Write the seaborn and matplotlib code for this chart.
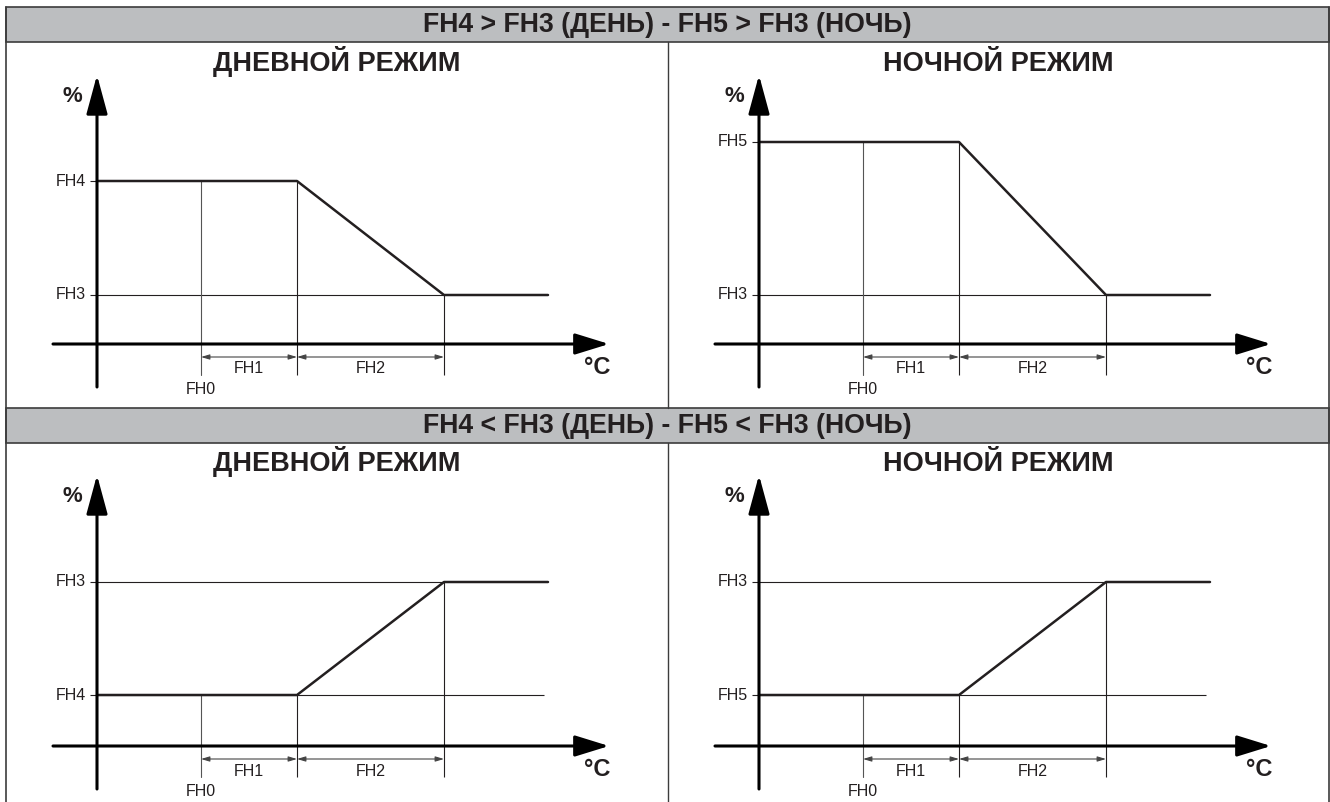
import matplotlib.pyplot as plt
import pandas as pd
import seaborn as sns
from matplotlib.patches import Rectangle

# section headers and panel titles
headers = ['FH4 > FH3 (ДЕНЬ) - FH5 > FH3 (НОЧЬ)', 'FH4 < FH3 (ДЕНЬ) - FH5 < FH3 (НОЧЬ)']
titles = ['ДНЕВНОЙ РЕЖИМ', 'НОЧНОЙ РЕЖИМ', 'ДНЕВНОЙ РЕЖИМ', 'НОЧНОЙ РЕЖИМ']

# temperature bands along the x axis (same scale in every panel)
fh0 = 104
fh1 = 96
fh2 = 147
x_end = 451
ref_end = 447

# output level at the start and at the end of the curve, per panel
start_names = ['FH4', 'FH5', 'FH4', 'FH5']
start_levels = [163, 202, 51, 51]
end_names = ['FH3', 'FH3', 'FH3', 'FH3']
end_levels = [49, 49, 164, 164]

# build one long table with the curve of each panel
rows = []
for i in range(4):
    xs = [0, fh0 + fh1, fh0 + fh1 + fh2, x_end]
    ys = [start_levels[i], start_levels[i], end_levels[i], end_levels[i]]
    for x, y in zip(xs, ys):
        rows.append({'panel': i, 'temp': x, 'level': y})
df = pd.DataFrame(rows)

sns.set_theme(style='white')
plt.rcParams['font.family'] = ['Liberation Sans', 'DejaVu Sans']

W, H = 1330, 802
ink = '#231f20'
grey = '#bcbec0'
frame = '#3c3c3c'

fig = plt.figure(figsize=(W / 100, H / 100), dpi=100)

# background: table frame and header bands (pixel coordinates)
bg = fig.add_axes([0, 0, 1, 1])
bg.set_xlim(0, W)
bg.set_ylim(H, 0)
bg.axis('off')
for top, hdr in zip([7, 408], headers):
    bg.add_patch(Rectangle((6, top), 1323, 35, facecolor=grey, edgecolor=frame, lw=1.2))
    bg.text(667, top + 25, hdr, ha='center', va='baseline', fontsize=19.2, fontweight='bold', color=ink)
bg.plot([6, 6], [7, H], color=frame, lw=1.2)
bg.plot([1329, 1329], [7, H], color=frame, lw=1.2)
bg.plot([668, 668], [42, 408], color=frame, lw=1)
bg.plot([668, 668], [443, H], color=frame, lw=1)

# panel boxes: left, top, right, bottom, origin x, origin y (pixels)
boxes = [
    (6, 43, 668, 408, 97, 344),
    (668, 43, 1329, 408, 759, 344),
    (6, 443, 668, 802, 97, 746),
    (668, 443, 1329, 802, 759, 746),
]

for i, (l, t, r, b, ox, oy) in enumerate(boxes):
    ax = fig.add_axes([l / W, 1 - b / H, (r - l) / W, (b - t) / H])
    ax.set_xlim(l - ox, r - ox)
    ax.set_ylim(oy - b, oy - t)
    ax.axis('off')
    ax.patch.set_alpha(0)

    s, e = start_levels[i], end_levels[i]
    k1, k2 = fh0 + fh1, fh0 + fh1 + fh2

    # thin guide lines
    thin = dict(color=ink, lw=0.8, solid_capstyle='butt')
    ax.plot([-7, k2], [e, e], **thin)
    ax.plot([-7, ref_end if s < e else 0], [s, s], **thin)
    ax.plot([fh0, fh0], [s, -31], color='#555555', lw=0.8)
    ax.plot([k1, k1], [s, -31], **thin)
    ax.plot([k2, k2], [e, -31], **thin)

    # the curve
    sns.lineplot(data=df[df['panel'] == i], x='temp', y='level', ax=ax, color=ink,
                 lw=1.8, sort=False, estimator=None)
    ax.axis('off')

    # axes with arrows
    ax.annotate('', xy=(0, oy - t - 32), xytext=(0, -43),
                arrowprops=dict(arrowstyle='-|>,head_length=2.4,head_width=0.65', lw=2.2,
                                color='black', shrinkA=0, shrinkB=0, mutation_scale=10))
    ax.annotate('', xy=(512, 0), xytext=(-44, 0),
                arrowprops=dict(arrowstyle='-|>,head_length=2.1,head_width=0.65', lw=2.2,
                                color='black', shrinkA=0, shrinkB=0, mutation_scale=10))

    # dimension arrows for FH1 and FH2
    for a0, a1, name in [(fh0, k1, 'FH1'), (k1, k2, 'FH2')]:
        ax.annotate('', xy=(a1, -13), xytext=(a0, -13),
                    arrowprops=dict(arrowstyle='<|-|>,head_length=0.5,head_width=0.15', lw=0.8,
                                    color='#444444', shrinkA=0, shrinkB=0, mutation_scale=10))
        ax.text((a0 + a1) / 2, -25, name, ha='center', va='center', fontsize=11.5, color=ink)
    ax.text(fh0, -46, 'FH0', ha='center', va='center', fontsize=11.5, color=ink)

    # level labels
    ax.text(-11, s, start_names[i], ha='right', va='center', fontsize=11.5, color=ink)
    ax.text(-11, e, end_names[i], ha='right', va='center', fontsize=11.5, color=ink)

    # axis names and panel title
    ax.text(-25, oy - t - 54, '%', ha='center', va='center', fontsize=16, fontweight='bold', color=ink)
    ax.text(500, -24, '°C', ha='center', va='center', fontsize=17, fontweight='bold', color=ink)
    ax.text((l + r) / 2 - ox, oy - t - 28, titles[i], ha='center', va='baseline', fontsize=19.5,
            fontweight='bold', color=ink)

fig.savefig('out.png', dpi=100)
